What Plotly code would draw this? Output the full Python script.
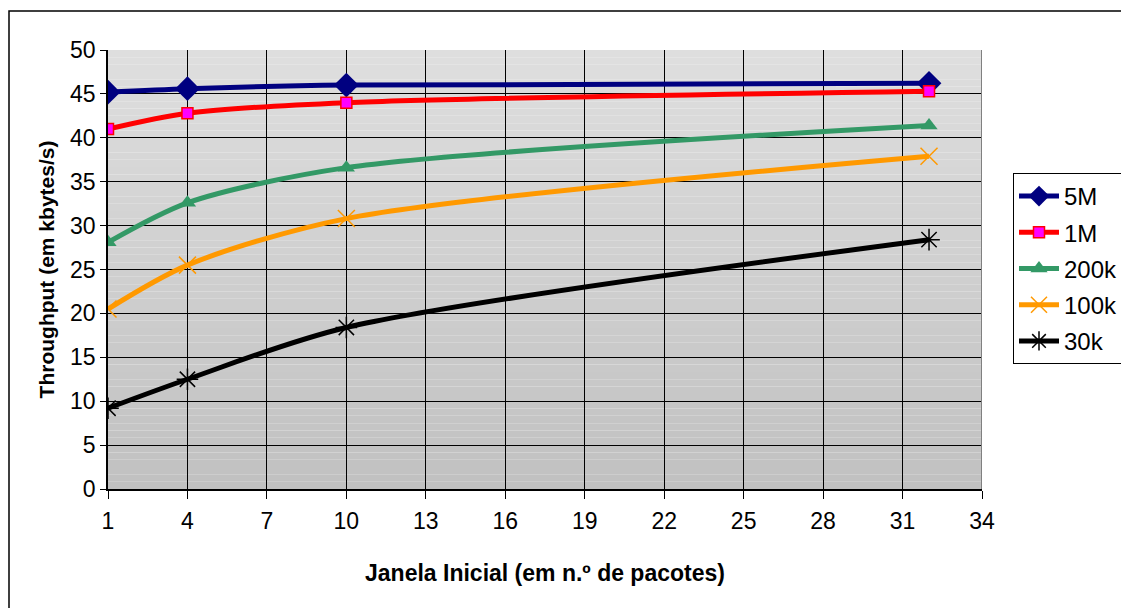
import plotly.graph_objects as go

# Initial window (packets) and measured throughput per file size
janela = [1, 4, 10, 32]
tp_5m = [45.2, 45.6, 46.0, 46.2]
tp_1m = [41.0, 42.8, 44.0, 45.3]
tp_200k = [28.1, 32.6, 36.6, 41.4]
tp_100k = [20.5, 25.5, 30.8, 37.9]
tp_30k = [9.2, 12.5, 18.4, 28.4]

x_ticks = list(range(1, 35, 3))
y_ticks = list(range(0, 51, 5))

FONT = "Liberation Sans, Arial, sans-serif"

series = [
    ("5M", tp_5m, "#000080", dict(symbol="diamond", size=19, color="#000080")),
    ("1M", tp_1m, "#ff0000", dict(symbol="square", size=11, color="#ff00ff",
                                  line=dict(color="#ff0000", width=1.5))),
    ("200k", tp_200k, "#339966", dict(symbol="triangle-up", size=15, color="#339966")),
    ("100k", tp_100k, "#ff9900", dict(symbol="x-thin", size=17,
                                      line=dict(color="#ff9900", width=1.5))),
    ("30k", tp_30k, "#000000", dict(symbol="asterisk", size=18,
                                     line=dict(color="#000000", width=1.5))),
]

fig = go.Figure()
for name, ys, col, mk in series:
    fig.add_trace(go.Scatter(
        x=janela, y=ys, name=name, mode="lines+markers",
        line=dict(color=col, width=5, shape="spline", smoothing=0.8),
        marker=mk, legendgroup=name,
    ))

# Vertical grey gradient behind the plotting area
shapes = []
n = 60
for i in range(n):
    t = i / (n - 1)
    g = round(193 + (222 - 193) * t)
    shapes.append(dict(
        type="rect", xref="x", yref="y", layer="below",
        x0=1, x1=34, y0=50 * i / n, y1=50 * (i + 1) / n,
        fillcolor=f"rgb({g},{g},{g})", line=dict(width=0),
    ))
# Plot-area right edge and outer chart frame
shapes.append(dict(type="line", xref="x", yref="y", x0=34, x1=34, y0=0, y1=50,
                   line=dict(color="#808080", width=2), layer="above"))
shapes.append(dict(type="rect", xref="paper", yref="paper",
                   x0=(9 - 108) / 874, x1=(1130 - 108) / 874,
                   y0=(489 - 615) / 439, y1=(489 - 11) / 439,
                   line=dict(color="#000000", width=1.5), fillcolor="rgba(0,0,0,0)"))

fig.update_layout(
    width=1121, height=608,
    margin=dict(l=108, r=139, t=50, b=119, autoexpand=False),
    paper_bgcolor="white", plot_bgcolor="rgba(0,0,0,0)",
    font=dict(family=FONT, size=23, color="#000000"),
    shapes=shapes,
    showlegend=True,
    legend=dict(
        x=(1013 - 108) / 874, y=(489 - 173) / 439, xanchor="left", yanchor="top",
        bordercolor="#000000", borderwidth=1, bgcolor="white",
        font=dict(family=FONT, size=24), tracegroupgap=2,
        itemwidth=40,
    ),
    xaxis=dict(
        range=[1, 34], tickvals=x_ticks, ticktext=[str(v) for v in x_ticks],
        showgrid=True, gridcolor="#000000", gridwidth=1,
        ticks="outside", ticklen=8, tickcolor="#000000",
        showline=True, linecolor="#000000", linewidth=1.5,
        zeroline=False, tickfont=dict(size=23), automargin=False,
        ticklabelstandoff=3,
        title=dict(text="<b>Janela Inicial (em n.º de pacotes)</b>",
                   font=dict(size=23), standoff=32),
    ),
    yaxis=dict(
        range=[0, 50], tickvals=y_ticks,
        showgrid=True, gridcolor="#000000", gridwidth=1,
        ticks="outside", ticklen=6, tickcolor="#000000",
        showline=True, linecolor="#000000", linewidth=1.5,
        zeroline=False, tickfont=dict(size=23), automargin=False,
        title=dict(text="<b>Throughput (em kbytes/s)</b>",
                   font=dict(size=21), standoff=10),
    ),
)

fig.write_html("out.html")
